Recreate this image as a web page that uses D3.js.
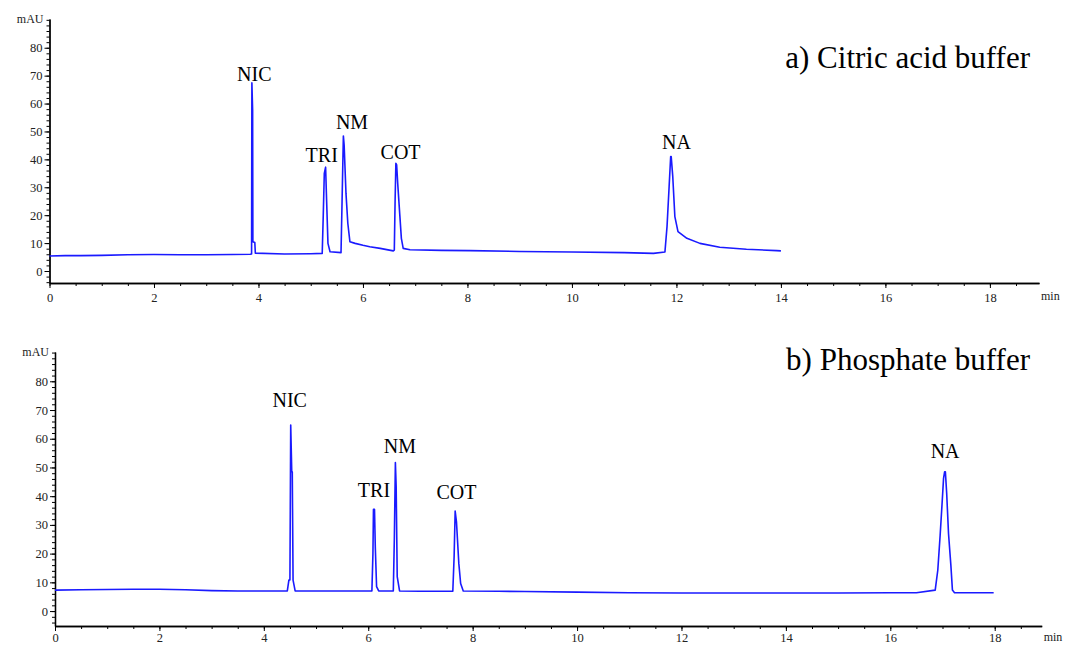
<!DOCTYPE html>
<html><head><meta charset="utf-8">
<script src="https://cdn.jsdelivr.net/npm/d3@7"></script>
<style>
body{margin:0;background:#fff;}
svg{display:block;}
</style></head>
<body>
<svg id="chart" width="1065" height="646"></svg>
<script>
// ---- data ----
const timeA = [0,0.3,0.6,1.0,1.5,2.0,2.5,3.0,3.5,3.84,3.868,3.874,3.888,3.893,3.93,3.94,4.5,5.0,5.22,5.24,5.26,5.285,5.3,5.33,5.37,5.58,5.6,5.625,5.64,5.675,5.71,5.75,5.85,6.0,6.13,6.33,6.58,6.6,6.615,6.63,6.645,6.665,6.705,6.735,6.77,6.9,7.5,8.05,9,10,11,11.56,11.78,11.82,11.86,11.89,11.9,11.93,11.97,12.03,12.2,12.45,12.83,13.34,13.92,14.0];
const signalA = [5.4,5.5,5.5,5.6,5.8,5.9,5.8,5.8,5.9,6.0,6.1,67.4,57.7,10.5,10.2,6.4,6.1,6.2,6.3,20,35,37.2,27.8,9.9,6.9,6.6,25,48.4,45,27.8,17.1,10.5,9.9,9.2,8.7,8.1,7.2,7.5,25,38.6,38,31.4,20.1,11.7,8.1,7.6,7.4,7.3,7.0,6.8,6.6,6.3,6.8,15.9,30.2,41,41,33.8,19.5,14.1,11.7,9.9,8.5,7.8,7.3,7.2];

const timeB = [0,0.5,1.0,1.5,2.0,2.5,3.0,3.5,4.0,4.45,4.48,4.5,4.515,4.535,4.545,4.56,4.6,5.0,5.5,6.07,6.09,6.1,6.12,6.135,6.16,6.2,6.48,6.5,6.52,6.535,6.555,6.6,7.0,7.62,7.645,7.665,7.69,7.735,7.77,7.82,8.5,9,10,11,12,13,14,15,16,16.5,16.86,16.91,16.955,16.99,17.02,17.04,17.055,17.08,17.115,17.16,17.19,17.23,17.98];
const signalB = [7.3,7.4,7.5,7.6,7.6,7.4,7.1,7.0,7.0,7.0,10.8,10.8,64.8,48.5,48.5,10.8,7.0,7.0,7.0,7.0,20,35.4,35.4,22.4,8.5,7.0,7.0,25.3,51.7,43.3,12,7.0,6.9,6.9,18.9,34.8,31.1,16.6,9.6,7.0,6.9,6.8,6.6,6.4,6.3,6.3,6.3,6.3,6.4,6.4,7.3,14.3,26.5,36.9,46.2,48.5,48.5,41,27,16,7.3,6.4,6.4];

const peakNames = ["NIC","TRI","NM","COT","NA"];
const labelTimeA = [3.92,5.21,5.79,6.72,12.0];
const labelValA  = [68.2,39.0,50.9,40.3,43.6];
const labelTimeB = [4.495,6.11,6.607,7.69,17.05];
const labelValB  = [71.2,39.6,54.9,39.0,53.2];

const yMajorTicks = [0,10,20,30,40,50,60,70,80];
const yMinorTicks = d3.range(-4, 91, 2);
const xMajorTicks = [0,2,4,6,8,10,12,14,16,18];
const xMinorTicks = d3.range(0, 19, 0.5);
const titles = ["a) Citric acid buffer","b) Phosphate buffer"];
const yUnit = "mAU", xUnit = "min";

// ---- layout ----
const panels = [
  {t: timeA, v: signalA, lt: labelTimeA, lv: labelValA, title: titles[0],
   x0: 49.5, x1: 1039, xMax: 18.94, yTop: 19, yBot: 283, yMin: -4.3, yMax: 90.3, titleY: 68, xPad: 5, unitDy: 17},
  {t: timeB, v: signalB, lt: labelTimeB, lv: labelValB, title: titles[1],
   x0: 55, x1: 1041.7, xMax: 18.9, yTop: 352, yBot: 626, yMin: -5.2, yMax: 90.2, titleY: 370, xPad: 2, unitDy: 15}
];

const svg = d3.select("#chart");
svg.append("rect").attr("width",1065).attr("height",646).attr("fill","#fff");

panels.forEach(p => {
  const x = d3.scaleLinear().domain([0, p.xMax]).range([p.x0, p.x1]);
  const y = d3.scaleLinear().domain([p.yMin, p.yMax]).range([p.yBot, p.yTop]);
  const g = svg.append("g");

  // y axis
  g.append("g").attr("transform", `translate(${p.x0},0)`)
    .call(d3.axisLeft(y).tickValues(yMinorTicks).tickSize(3).tickSizeOuter(0).tickFormat(""));
  g.append("g").attr("transform", `translate(${p.x0},0)`)
    .call(d3.axisLeft(y).tickValues(yMajorTicks).tickSize(5).tickSizeOuter(0).tickPadding(2));
  // x axis
  g.append("g").attr("transform", `translate(0,${p.yBot})`)
    .call(d3.axisBottom(x).tickValues(xMinorTicks).tickSize(3).tickSizeOuter(0).tickFormat(""));
  g.append("g").attr("transform", `translate(0,${p.yBot})`)
    .call(d3.axisBottom(x).tickValues(xMajorTicks).tickSize(5).tickSizeOuter(0).tickPadding(p.xPad));

  g.selectAll(".domain").attr("stroke","#000").attr("stroke-width",1.3);
  g.selectAll(".tick line").attr("stroke","#000").attr("stroke-width",1);
  g.selectAll(".tick text").attr("fill","#222")
    .style("font-family","'Liberation Serif', serif").style("font-size","12.5px");

  // units
  g.append("text").attr("x", p.x0 - 6).attr("y", p.yTop + 4)
    .attr("text-anchor","end").style("font-family","'Liberation Serif', serif")
    .style("font-size","12px").attr("fill","#222").text(yUnit);
  g.append("text").attr("x", p.x1 + 2).attr("y", p.yBot + p.unitDy)
    .attr("text-anchor","start").style("font-family","'Liberation Serif', serif")
    .style("font-size","12px").attr("fill","#222").text(xUnit);

  // trace
  const pts = p.t.map((tt,i) => [tt, p.v[i]]);
  g.append("path").datum(pts)
    .attr("fill","none").attr("stroke","#1a1aff").attr("stroke-width",1.6)
    .attr("stroke-linejoin","round")
    .attr("d", d3.line().x(d => x(d[0])).y(d => y(d[1])));

  // peak labels
  peakNames.forEach((n,i) => {
    g.append("text").attr("x", x(p.lt[i])).attr("y", y(p.lv[i]))
      .attr("text-anchor","middle").style("font-family","'Liberation Serif', serif")
      .style("font-size","20px").attr("fill","#000").text(n);
  });

  // title
  g.append("text").attr("x", 1030).attr("y", p.titleY)
    .attr("text-anchor","end").style("font-family","'Liberation Serif', serif")
    .style("font-size","31px").attr("fill","#000").text(p.title);
});
</script>
</body></html>
